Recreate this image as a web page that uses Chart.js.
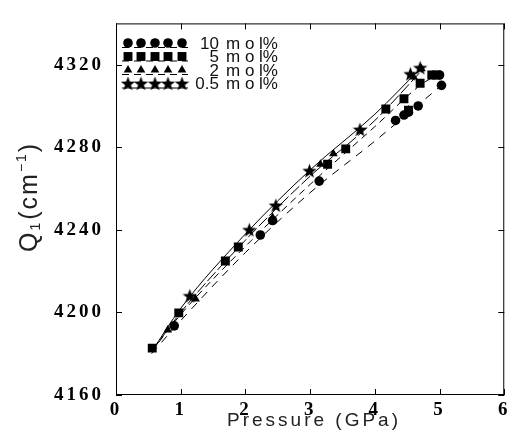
<!DOCTYPE html>
<html>
<head>
<meta charset="utf-8">
<script src="https://cdn.jsdelivr.net/npm/chart.js@4.4.0/dist/chart.umd.min.js"></script>
<style>
  html, body { margin: 0; padding: 0; background: #fff; }
  #wrap { width: 513px; height: 443px; position: relative; }
</style>
</head>
<body>
<div id="wrap"><canvas id="myChart" width="513" height="443"></canvas></div>
<script>
// Q1 vibron frequency vs pressure, four concentrations

// axis ticks
const xTicks = [0, 1, 2, 3, 4, 5, 6];
const yTicks = [4160, 4200, 4240, 4280, 4320];

// measured points (pressure GPa, frequency cm-1)
const p10 = [0.90, 2.23, 2.42, 3.14, 4.32, 4.45, 4.52, 4.67, 5.00, 5.03];
const q10 = [4193.5, 4237.5, 4244.5, 4263.6, 4293, 4295.6, 4297, 4300, 4315, 4310];

const p5 = [0.56, 0.97, 1.69, 1.89, 3.27, 3.55, 4.17, 4.45, 4.52, 4.70, 4.88, 4.95];
const q5 = [4182.7, 4199.8, 4224.9, 4231.7, 4271.8, 4279.2, 4298.5, 4303.5, 4298, 4311, 4315, 4315];

const p2 = [0.80, 1.23, 2.42, 3.16, 3.36, 4.52, 4.60, 4.72];
const q2 = [4191.5, 4206.5, 4246, 4271.8, 4276.8, 4298, 4314, 4318];

const p05 = [1.14, 2.06, 2.47, 2.99, 3.77, 4.55, 4.70];
const q05 = [4208, 4240, 4251.8, 4268.6, 4288.6, 4315.5, 4318.5];

// fitted curves drawn through each set
const fitP10 = [0.55, 1, 2, 3, 4, 5.03];
const fitQ10 = [4180, 4196, 4229, 4258, 4283, 4310];
const fitP5 = [0.55, 1, 2, 3, 4, 4.7, 4.95];
const fitQ5 = [4181, 4199, 4232, 4262, 4290, 4310, 4315];
const fitP2 = [0.55, 1, 2, 3, 4, 4.72];
const fitQ2 = [4181, 4200, 4235, 4266, 4293, 4317];
const fitP05 = [0.55, 1, 2, 3, 4, 4.7];
const fitQ05 = [4181, 4202, 4238, 4269, 4296, 4318];

const legendLabels = ['10', '5', '2', '0.5'];

Chart.defaults.color = '#000';

function toXY(xs, ys) {
    return xs.map((x, i) => ({ x: x, y: ys[i] }));
}

// filled five-point star marker
function makeStar(size) {
    const c = document.createElement('canvas');
    c.width = size;
    c.height = size;
    const g = c.getContext('2d');
    const cx = size / 2, cy = size / 2 + 0.6;
    const ro = size / 2, ri = ro * 0.42;
    g.beginPath();
    for (let i = 0; i < 10; i++) {
        const r = i % 2 === 0 ? ro : ri;
        const a = -Math.PI / 2 + i * Math.PI / 5;
        const px = cx + r * Math.cos(a), py = cy + r * Math.sin(a);
        if (i === 0) g.moveTo(px, py); else g.lineTo(px, py);
    }
    g.closePath();
    g.fillStyle = '#000';
    g.fill();
    return c;
}
const starImg = makeStar(15);

const markers = [
    { style: 'circle', radius: 4.8, dash: [8, 7] },
    { style: 'rect', radius: 6.3, dash: [7, 5] },
    { style: 'triangle', radius: 5, dash: [12, 3] },
    { style: starImg, radius: 7, dash: [] }
];

// spaced-out serif tick labels
const spacingPlugin = {
    id: 'tickSpacing',
    beforeDraw(chart) { chart.ctx.letterSpacing = '3px'; },
    afterDatasetsDraw(chart) { chart.ctx.letterSpacing = '0px'; }
};

// frame with inward ticks on all sides
const framePlugin = {
    id: 'frame',
    afterDatasetsDraw(chart) {
        const { ctx, chartArea: a, scales } = chart;
        ctx.save();
        ctx.strokeStyle = '#000';
        ctx.lineWidth = 1;
        ctx.strokeRect(a.left + 0.5, a.top + 0.5, a.right - a.left - 1, a.bottom - a.top - 1);
        const len = 6;
        ctx.beginPath();
        xTicks.forEach(v => {
            const px = Math.round(scales.x.getPixelForValue(v)) + 0.5;
            ctx.moveTo(px, a.bottom); ctx.lineTo(px, a.bottom - len);
            ctx.moveTo(px, a.top); ctx.lineTo(px, a.top + len);
        });
        yTicks.forEach(v => {
            const py = Math.round(scales.y.getPixelForValue(v)) + 0.5;
            ctx.moveTo(a.left, py); ctx.lineTo(a.left + len, py);
            ctx.moveTo(a.right, py); ctx.lineTo(a.right - len, py);
        });
        ctx.stroke();
        ctx.restore();
    }
};

// legend with five markers per row, axis titles
const legendPlugin = {
    id: 'customLegend',
    afterDraw(chart) {
        const ctx = chart.ctx;
        ctx.save();
        ctx.letterSpacing = '0px';
        const rows = [43, 56.5, 70, 83.5];
        const mx = [128, 141, 155, 168, 182];
        rows.forEach((y, i) => {
            const m = markers[i];
            ctx.strokeStyle = '#000';
            ctx.lineWidth = 1;
            ctx.setLineDash(i === 3 ? [] : [7, 5]);
            ctx.beginPath();
            ctx.moveTo(122, y + 4.5);
            ctx.lineTo(188, y + 4.5);
            ctx.stroke();
            ctx.setLineDash([]);
            mx.forEach(x => {
                ctx.fillStyle = '#000';
                Chart.helpers.drawPoint(ctx, {
                    pointStyle: m.style,
                    radius: m.radius,
                    rotation: 0,
                    borderWidth: 0
                }, x, y);
            });
            ctx.fillStyle = '#111';
            ctx.font = '17px "Liberation Sans", sans-serif';
            ctx.textBaseline = 'middle';
            ctx.textAlign = 'right';
            ctx.fillText(legendLabels[i], 219, y + 1);
            ctx.textAlign = 'left';
            ctx.fillText('m o l%', 226, y + 1);
        });

        // x title
        ctx.fillStyle = '#222';
        ctx.font = '19px "Liberation Sans", sans-serif';
        ctx.letterSpacing = '3px';
        ctx.textAlign = 'center';
        ctx.textBaseline = 'alphabetic';
        ctx.fillText('Pressure (GPa)', 314, 426);

        // y title, rotated, with sub/superscripts
        ctx.translate(37, 252);
        ctx.rotate(-Math.PI / 2);
        ctx.textAlign = 'left';
        ctx.letterSpacing = '2px';
        let x = 0;
        const big = '25px "Liberation Sans", sans-serif';
        const small = '14px "Liberation Sans", sans-serif';
        ctx.font = big;
        ctx.fillText('Q', x, 0); x += ctx.measureText('Q').width;
        ctx.font = small;
        ctx.fillText('1', x, 3); x += ctx.measureText('1').width + 1;
        ctx.font = big;
        ctx.fillText('(cm', x, 0); x += ctx.measureText('(cm').width;
        ctx.font = small;
        ctx.fillText('\u22121', x, -11); x += ctx.measureText('\u22121').width;
        ctx.font = big;
        ctx.fillText(')', x, 0);
        ctx.restore();
    }
};

function initializeChart() {
    const ctx = document.getElementById('myChart');
    const pointSets = [[p10, q10], [p5, q5], [p2, q2], [p05, q05]];
    const fitSets = [[fitP10, fitQ10], [fitP5, fitQ5], [fitP2, fitQ2], [fitP05, fitQ05]];
    const datasets = [];
    fitSets.forEach((s, i) => {
        datasets.push({
            data: toXY(s[0], s[1]),
            showLine: true,
            borderColor: '#000',
            borderWidth: 1,
            borderDash: markers[i].dash,
            pointRadius: 0,
            tension: 0.4,
            cubicInterpolationMode: 'monotone'
        });
    });
    pointSets.forEach((s, i) => {
        datasets.push({
            data: toXY(s[0], s[1]),
            showLine: false,
            pointStyle: markers[i].style,
            pointRadius: markers[i].radius,
            pointBackgroundColor: '#000',
            pointBorderColor: '#000',
            pointBorderWidth: 0
        });
    });

    const tickFont = { family: 'Liberation Serif', size: 19, weight: 'bold' };

    new Chart(ctx, {
        type: 'scatter',
        data: { datasets: datasets },
        options: {
            responsive: false,
            animation: false,
            layout: { padding: { top: 14, right: 3, left: 0, bottom: 0 } },
            plugins: { legend: { display: false }, tooltip: { enabled: false } },
            scales: {
                x: {
                    type: 'linear',
                    min: 0,
                    max: 6,
                    afterBuildTicks: s => { s.ticks = xTicks.map(v => ({ value: v })); },
                    afterFit: s => { s.height = 48; },
                    grid: { display: false, drawTicks: false },
                    border: { display: false },
                    ticks: {
                        color: '#000',
                        padding: 4,
                        maxRotation: 0,
                        font: tickFont,
                        callback: v => String(v)
                    }
                },
                y: {
                    type: 'linear',
                    min: 4160,
                    max: 4340,
                    afterBuildTicks: s => { s.ticks = yTicks.map(v => ({ value: v })); },
                    afterFit: s => { s.width = 116; },
                    grid: { display: false, drawTicks: false },
                    border: { display: false },
                    ticks: {
                        color: '#000',
                        padding: 12,
                        font: tickFont,
                        callback: v => String(v)
                    }
                }
            }
        },
        plugins: [spacingPlugin, framePlugin, legendPlugin]
    });
}

document.addEventListener('DOMContentLoaded', initializeChart);
</script>
</body>
</html>
